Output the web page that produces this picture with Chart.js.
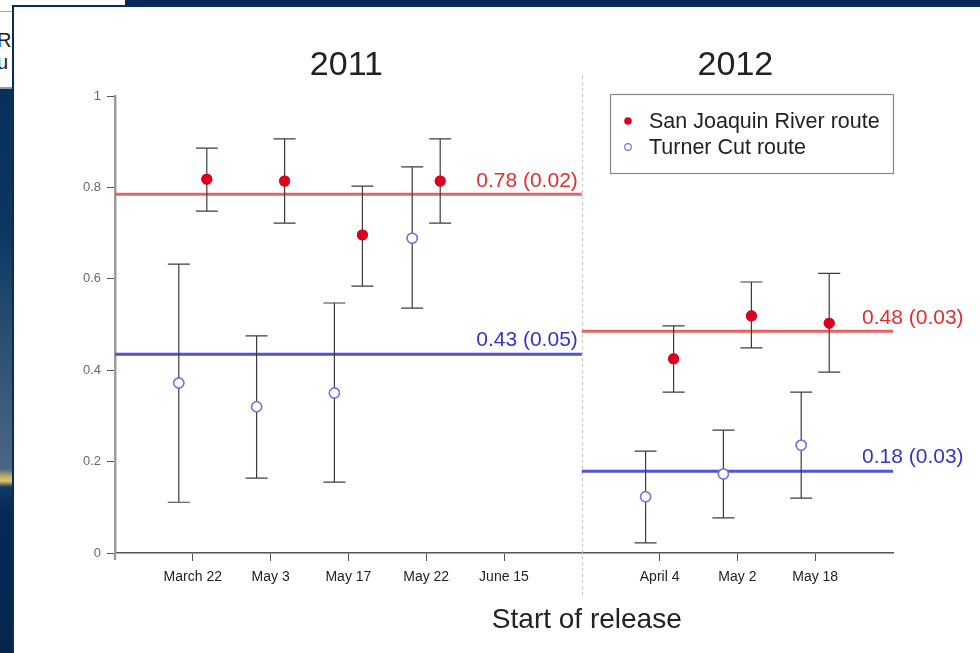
<!DOCTYPE html>
<html><head><meta charset="utf-8">
<script src="https://cdn.jsdelivr.net/npm/chart.js@4.4.1/dist/chart.umd.min.js"></script>
<style>
html,body{margin:0;padding:0;}
body{width:980px;height:653px;position:relative;overflow:hidden;background:#062a55;font-family:'Liberation Sans',Arial,sans-serif;}
#box{position:absolute;left:0;top:0;width:125px;height:88px;background:#fff;}
#box .l1{position:absolute;left:0;top:11px;width:12px;height:1px;background:#aaa;}
#box .l2{position:absolute;left:0;top:87px;width:12px;height:2px;background:#999;}
#box .t{position:absolute;left:-3px;font-size:20px;color:#222;line-height:20px;}
#strip{position:absolute;left:0;top:89px;width:12px;height:564px;background:linear-gradient(to bottom,#07305c 0px,#0c3560 140px,#2a4f72 250px,#4a6784 380px,#c9b060 388px,#dcc370 392px,#123a62 398px,#052a55 420px,#04264e 564px);}
#panel{position:absolute;left:12px;top:5px;right:0;bottom:0;background:#fff;border-top:2px solid #0a2b5c;border-left:2px solid #0a2b5c;}
canvas{position:absolute;left:0;top:0;z-index:5;}
</style></head>
<body>
<div id="box"><div class="l1"></div><div class="t" style="top:30px">R</div><div class="t" style="top:52px">u</div><div class="l2"></div></div>
<div id="strip"></div>
<div id="panel"></div>
<canvas id="c" width="980" height="653"></canvas>
<script>
// ---- data ----
const years = ['2011', '2012'];
const categories2011 = ['March 22', 'May 3', 'May 17', 'May 22', 'June 15'];
const categories2012 = ['April 4', 'May 2', 'May 18'];
const seriesNames = ['San Joaquin River route', 'Turner Cut route'];

const sjrEst2011 = [0.818, 0.814, 0.696, 0.814, null];
const sjrLow2011 = [0.748, 0.722, 0.584, 0.722, null];
const sjrHigh2011 = [0.886, 0.906, 0.803, 0.906, null];
const tcEst2011 = [0.372, 0.320, 0.350, 0.689, null];
const tcLow2011 = [0.111, 0.164, 0.155, 0.536, null];
const tcHigh2011 = [0.632, 0.475, 0.547, 0.845, null];

const sjrEst2012 = [0.425, 0.519, 0.503];
const sjrLow2012 = [0.352, 0.449, 0.396];
const sjrHigh2012 = [0.497, 0.593, 0.612];
const tcEst2012 = [0.123, 0.173, 0.236];
const tcLow2012 = [0.022, 0.077, 0.120];
const tcHigh2012 = [0.223, 0.269, 0.352];

const sjrMean = [0.785, 0.485];
const tcMean = [0.435, 0.179];
const sjrMeanLabels = ['0.78 (0.02)', '0.48 (0.03)'];
const tcMeanLabels = ['0.43 (0.05)', '0.18 (0.03)'];
const yTicks = [0, 0.2, 0.4, 0.6, 0.8, 1];

// ---- derived positions ----
const pos2011 = categories2011.map((_, i) => i + 1);
const divider = categories2011.length + 1;
const pos2012 = categories2012.map((_, i) => divider + 1 + i);
const xMax = divider + categories2012.length + 1;
const sections = [[0, divider], [divider, xMax]];
const tickPositions = pos2011.concat(pos2012);
const tickLabels = categories2011.concat(categories2012);
const shift = 0.18;

const RED = '#dc0020', RED_LINE = '#e46464', RED_TXT = '#e0302e';
const BLUE = '#7474e4', BLUE_LINE = '#5252d6', BLUE_TXT = '#3434c8';

function pts(pos, est, off) {
  const out = [];
  pos.forEach((p, i) => { if (est[i] != null) out.push({x: p + off, y: est[i]}); });
  return out;
}
const bars = [];
function addBars(pos, est, lo, hi, off) {
  pos.forEach((p, i) => { if (est[i] != null) bars.push({x: p + off, lo: lo[i], hi: hi[i]}); });
}
addBars(pos2011, sjrEst2011, sjrLow2011, sjrHigh2011, shift);
addBars(pos2011, tcEst2011, tcLow2011, tcHigh2011, -shift);
addBars(pos2012, sjrEst2012, sjrLow2012, sjrHigh2012, shift);
addBars(pos2012, tcEst2012, tcLow2012, tcHigh2012, -shift);

const datasets = [];
sections.forEach((s, k) => {
  datasets.push({type: 'line', data: [{x: s[0], y: sjrMean[k]}, {x: s[1], y: sjrMean[k]}], borderColor: RED_LINE, borderWidth: 3, pointRadius: 0, order: 3});
  datasets.push({type: 'line', data: [{x: s[0], y: tcMean[k]}, {x: s[1], y: tcMean[k]}], borderColor: BLUE_LINE, borderWidth: 3, pointRadius: 0, order: 3});
});
datasets.push({type: 'scatter', label: seriesNames[0], data: pts(pos2011, sjrEst2011, shift).concat(pts(pos2012, sjrEst2012, shift)),
  pointRadius: 5.5, pointBackgroundColor: RED, pointBorderColor: RED, pointBorderWidth: 0, order: 1});
datasets.push({type: 'scatter', label: seriesNames[1], data: pts(pos2011, tcEst2011, -shift).concat(pts(pos2012, tcEst2012, -shift)),
  pointRadius: 5, pointBackgroundColor: '#ffffff', pointBorderColor: BLUE, pointBorderWidth: 1.5, order: 1});

const FONT = "'Liberation Sans', Arial, sans-serif";

const decor = {
  id: 'decor',
  beforeDatasetsDraw(chart) {
    const {ctx, scales: {x, y}, chartArea: ca} = chart;
    ctx.save();
    ctx.strokeStyle = '#c4c4c4'; ctx.lineWidth = 1; ctx.setLineDash([3, 3]);
    const dx = Math.round(x.getPixelForValue(divider)) + 0.5;
    ctx.beginPath(); ctx.moveTo(dx, ca.top - 20); ctx.lineTo(dx, ca.bottom + 42); ctx.stroke();
    ctx.setLineDash([]);
    // y axis extends slightly below the x axis
    ctx.strokeStyle = '#9c9c9c'; ctx.lineWidth = 2.5;
    ctx.beginPath(); ctx.moveTo(ca.left, ca.bottom); ctx.lineTo(ca.left, ca.bottom + 7); ctx.stroke();
    ctx.restore();
  },
  afterDatasetsDraw(chart) {
    const {ctx, scales: {x, y}} = chart;
    ctx.save();
    ctx.strokeStyle = '#3c3c3c'; ctx.lineWidth = 1.2;
    bars.forEach(b => {
      const px = x.getPixelForValue(b.x), y1 = y.getPixelForValue(b.lo), y2 = y.getPixelForValue(b.hi);
      ctx.beginPath();
      ctx.moveTo(px, y1); ctx.lineTo(px, y2);
      ctx.moveTo(px - 11, y1); ctx.lineTo(px + 11, y1);
      ctx.moveTo(px - 11, y2); ctx.lineTo(px + 11, y2);
      ctx.stroke();
    });
    ctx.restore();
  },
  afterDraw(chart) {
    const {ctx, scales: {x, y}, chartArea: ca} = chart;
    ctx.save();
    chart.data.datasets.forEach((ds) => {
      if (ds.type !== 'scatter') return;
      ds.data.forEach(p => {
        const px = x.getPixelForValue(p.x), py = y.getPixelForValue(p.y);
        ctx.beginPath(); ctx.arc(px, py, ds.pointRadius, 0, Math.PI * 2);
        ctx.fillStyle = ds.pointBackgroundColor; ctx.fill();
        if (ds.pointBorderWidth) { ctx.lineWidth = ds.pointBorderWidth; ctx.strokeStyle = ds.pointBorderColor; ctx.stroke(); }
      });
    });
    // titles
    ctx.fillStyle = '#222'; ctx.font = '34px ' + FONT; ctx.textAlign = 'center'; ctx.textBaseline = 'alphabetic';
    sections.forEach((s, k) => {
      ctx.fillText(years[k], x.getPixelForValue((s[0] + s[1]) / 2) - 2, ca.top - 21);
    });
    // mean labels
    ctx.font = '21px ' + FONT; ctx.textBaseline = 'middle';
    sections.forEach((s, k) => {
      const ex = x.getPixelForValue(s[1]);
      ctx.textAlign = k === 0 ? 'right' : 'left';
      const tx = k === 0 ? ex - 4 : ex - 31;
      ctx.fillStyle = RED_TXT; ctx.fillText(sjrMeanLabels[k], tx, y.getPixelForValue(sjrMean[k]) - 13);
      ctx.fillStyle = BLUE_TXT; ctx.fillText(tcMeanLabels[k], tx, y.getPixelForValue(tcMean[k]) - 14);
    });
    // axis title
    ctx.fillStyle = '#222'; ctx.font = '28px ' + FONT; ctx.textAlign = 'center'; ctx.textBaseline = 'alphabetic';
    ctx.fillText('Start of release', x.getPixelForValue(divider) + 5, ca.bottom + 75);
    // legend
    const lx = ca.right - 283, ly = ca.top - 2, lw = 283, lh = 79;
    ctx.strokeStyle = '#888'; ctx.lineWidth = 1.2;
    ctx.strokeRect(lx + 0.5, ly + 0.5, lw, lh);
    ctx.font = '21.5px ' + FONT; ctx.textAlign = 'left'; ctx.textBaseline = 'middle';
    ctx.beginPath(); ctx.arc(lx + 18, ly + 27, 3.8, 0, Math.PI * 2); ctx.fillStyle = RED; ctx.fill();
    ctx.beginPath(); ctx.arc(lx + 18, ly + 53, 3.3, 0, Math.PI * 2); ctx.fillStyle = '#fff'; ctx.fill(); ctx.strokeStyle = BLUE; ctx.lineWidth = 1.2; ctx.stroke();
    ctx.fillStyle = '#222';
    ctx.fillText(seriesNames[0], lx + 39, ly + 28);
    ctx.fillText(seriesNames[1], lx + 39, ly + 54);
    ctx.restore();
  }
};

new Chart(document.getElementById('c'), {
  data: {datasets},
  options: {
    responsive: false, devicePixelRatio: 1, animation: false,
    layout: {padding: {left: 65, top: 96, right: 87, bottom: 40}},
    plugins: {legend: {display: false}, tooltip: {enabled: false}},
    scales: {
      x: {
        type: 'linear', min: 0, max: xMax,
        afterBuildTicks: s => { s.ticks = tickPositions.map(v => ({value: v})); },
        afterFit: s => { s.height = 60; },
        ticks: {
          autoSkip: false, maxRotation: 0, padding: 8, color: '#222',
          font: {family: "'Liberation Sans Narrow', " + FONT, size: 14},
          callback: v => { const i = tickPositions.indexOf(v); return i >= 0 ? tickLabels[i] : ''; }
        },
        grid: {display: true, drawOnChartArea: false, drawTicks: true, tickLength: 8, color: '#555', lineWidth: 1},
        border: {display: true, color: '#555', width: 1.5}
      },
      y: {
        type: 'linear', min: 0, max: 1,
        afterBuildTicks: s => { s.ticks = yTicks.map(v => ({value: v})); },
        afterFit: s => { s.width = 50; },
        ticks: {padding: 6, color: '#6a6a6a', font: {family: FONT, size: 13},
          callback: v => String(+v.toFixed(1))},
        grid: {display: true, drawOnChartArea: false, drawTicks: true, tickLength: 8, color: '#555', lineWidth: 1},
        border: {display: true, color: '#9c9c9c', width: 2.5}
      }
    }
  },
  plugins: [decor]
});
</script>
</body></html>
